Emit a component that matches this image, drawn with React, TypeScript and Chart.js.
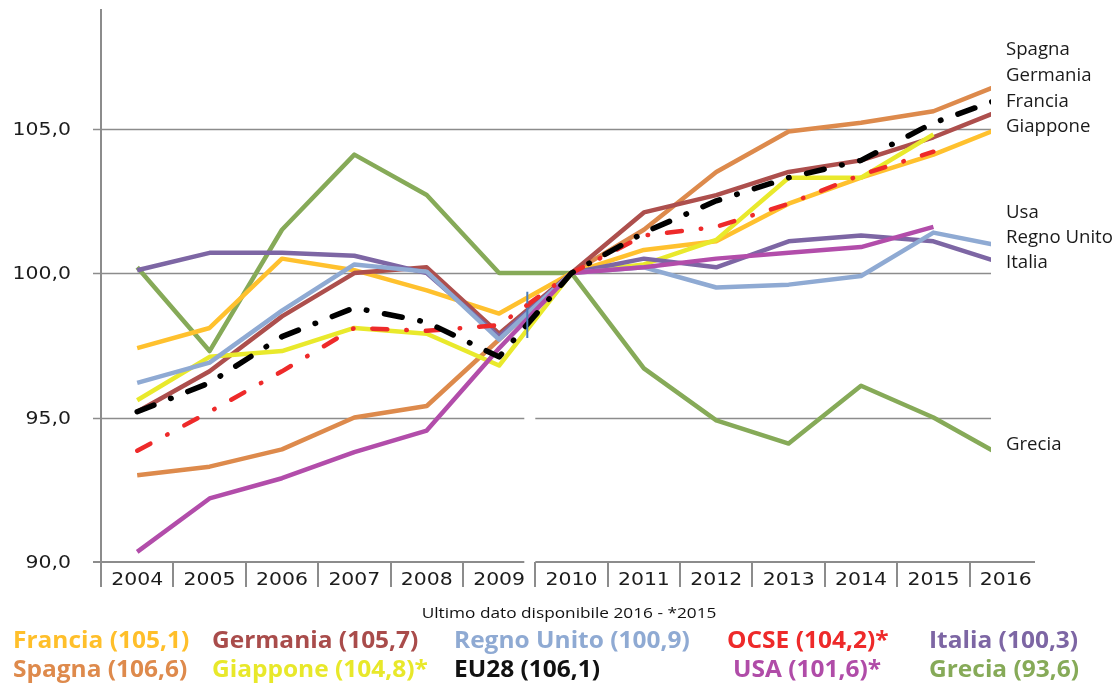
import React, { useEffect, useRef } from "react";
import { Chart, registerables } from "chart.js";

Chart.register(...registerables);

// ---------------- DATA ----------------
const years = ["2004", "2005", "2006", "2007", "2008", "2009", "2010", "2011", "2012", "2013", "2014", "2015", "2016"];

const francia = [97.4, 98.1, 100.5, 100.1, 99.4, 98.6, 100, 100.8, 101.1, 102.4, 103.3, 104.1, 105.1];
const spagna = [93.0, 93.3, 93.9, 95.0, 95.4, 97.7, 100, 101.5, 103.5, 104.9, 105.2, 105.6, 106.6];
const germania = [95.2, 96.6, 98.5, 100.0, 100.2, 97.9, 100, 102.1, 102.7, 103.5, 103.9, 104.7, 105.7];
const giappone = [95.6, 97.1, 97.3, 98.1, 97.9, 96.8, 100, 100.3, 101.15, 103.3, 103.3, 104.8, null];
const regnoUnito = [96.2, 96.9, 98.7, 100.3, 100.05, 97.7, 100, 100.2, 99.5, 99.6, 99.9, 101.4, 100.9];
const eu28 = [95.2, 96.2, 97.8, 98.8, 98.3, 97.1, 100, 101.4, 102.5, 103.3, 103.9, 105.2, 106.1];
const ocse = [93.85, 95.2, 96.6, 98.1, 98.0, 98.2, 100, 101.3, 101.6, 102.4, 103.4, 104.2, null];
const usa = [90.35, 92.2, 92.9, 93.8, 94.55, 97.4, 100, 100.2, 100.5, 100.7, 100.9, 101.6, null];
const italia = [100.1, 100.7, 100.7, 100.6, 100.0, 97.8, 100, 100.5, 100.2, 101.1, 101.3, 101.1, 100.3];
const grecia = [100.2, 97.3, 101.5, 104.1, 102.7, 100.0, 100, 96.7, 94.9, 94.1, 96.1, 95.0, 93.6];

const yTicks = [90, 95, 100, 105];
const yMin = 90;
const yMax = 109.14;

const subtitle = "Ultimo dato disponibile 2016 - *2015";

// right side labels
const sideLabels = ["Spagna", "Germania", "Francia", "Giappone", "Usa", "Regno Unito", "Italia", "Grecia"];
const sideBaselines = [55, 81, 106.7, 131.7, 218.3, 243.3, 268.3, 449.6];

// ---------------- STYLES ----------------
const C = {
  francia: "#FFC12E",
  spagna: "#DD8A4C",
  germania: "#AD4F4D",
  regno: "#8FAAD3",
  italia: "#7D66A4",
  giappone: "#E9E92C",
  eu28: "#000000",
  ocse: "#EE2A2A",
  usa: "#B24DAA",
  grecia: "#86AA58",
};

type Entry = { name: string; data: (number | null)[]; textColor: string; x: number; row: number };
const legendEntries: Entry[] = [
  { name: "Francia", data: francia, textColor: "#FFBF2A", x: 13, row: 0 },
  { name: "Germania", data: germania, textColor: "#A94C4B", x: 212, row: 0 },
  { name: "Regno Unito", data: regnoUnito, textColor: "#8FAAD3", x: 454, row: 0 },
  { name: "OCSE", data: ocse, textColor: "#EE2A2A", x: 727, row: 0 },
  { name: "Italia", data: italia, textColor: "#7D66A4", x: 929, row: 0 },
  { name: "Spagna", data: spagna, textColor: "#DE8A4C", x: 13, row: 1 },
  { name: "Giappone", data: giappone, textColor: "#E8E82A", x: 212, row: 1 },
  { name: "EU28", data: eu28, textColor: "#111111", x: 454, row: 1 },
  { name: "USA", data: usa, textColor: "#B04CA8", x: 733, row: 1 },
  { name: "Grecia", data: grecia, textColor: "#86AA58", x: 929, row: 1 },
];
const legendBaselines = [648.3, 677];

const GRAY = "#8c8c8c";
const TICK_FONT = '17px "DejaVu Sans"';
const TICK_SX = 1.2;

function fmt(v: number) {
  return v.toFixed(1).replace(".", ",");
}

function lastLabel(data: (number | null)[]) {
  let idx = data.length - 1;
  while (idx >= 0 && data[idx] == null) idx--;
  const v = data[idx] as number;
  return "(" + fmt(v) + ")" + (idx < data.length - 1 ? "*" : "");
}

function txt(ctx: CanvasRenderingContext2D, s: string, x: number, y: number, font: string, color: string, align: CanvasTextAlign = "left", sx = 1) {
  ctx.save();
  ctx.font = font;
  ctx.fillStyle = color;
  ctx.textBaseline = "alphabetic";
  ctx.textAlign = align;
  ctx.translate(x, y);
  ctx.scale(sx, 1);
  ctx.fillText(s, 0, 0);
  ctx.restore();
}

function hline(ctx: CanvasRenderingContext2D, x1: number, x2: number, y: number, gap?: [number, number]) {
  ctx.beginPath();
  if (gap) {
    ctx.moveTo(x1, y);
    ctx.lineTo(gap[0], y);
    ctx.moveTo(gap[1], y);
    ctx.lineTo(x2, y);
  } else {
    ctx.moveTo(x1, y);
    ctx.lineTo(x2, y);
  }
  ctx.stroke();
}

const framePlugin = {
  id: "frame",
  beforeDatasetsDraw(chart: any) {
    const ctx: CanvasRenderingContext2D = chart.ctx;
    const ca = chart.chartArea;
    const xs = chart.scales.x;
    const ys = chart.scales.y;
    const cropX = ca.right - 51;
    const bx = (xs.getPixelForValue(5) + xs.getPixelForValue(6)) / 2;
    const gap: [number, number] = [bx - 11, bx];
    ctx.save();
    ctx.strokeStyle = GRAY;
    ctx.lineWidth = 1.5;
    yTicks.forEach((v) => {
      if (v === yMin) return;
      const y = Math.round(ys.getPixelForValue(v)) + 0.5;
      hline(ctx, ca.left - 8, cropX, y, v < 105 ? gap : undefined);
    });
    ctx.lineWidth = 2;
    hline(ctx, ca.left - 8, ca.right - 7, ca.bottom, gap);
    ctx.beginPath();
    ctx.moveTo(ca.left, ca.top);
    ctx.lineTo(ca.left, ca.bottom + 25);
    ctx.stroke();
    for (let i = 1; i < years.length; i++) {
      const x = Math.round((xs.getPixelForValue(i - 1) + xs.getPixelForValue(i)) / 2);
      ctx.beginPath();
      ctx.moveTo(x, ca.bottom);
      ctx.lineTo(x, ca.bottom + 25);
      ctx.stroke();
    }
    ctx.restore();
    yTicks.forEach((v) => {
      txt(ctx, fmt(v), ca.left - 30, ys.getPixelForValue(v) + 6, TICK_FONT, "#1c1c1c", "right", TICK_SX);
    });
    years.forEach((y, i) => {
      txt(ctx, y, xs.getPixelForValue(i), ca.bottom + 23, TICK_FONT, "#1c1c1c", "center", TICK_SX);
    });
  },
  afterDatasetsDraw(chart: any) {
    const ctx: CanvasRenderingContext2D = chart.ctx;
    const ca = chart.chartArea;
    const xs = chart.scales.x;
    const ys = chart.scales.y;
    const cropX = ca.right - 51;
    const bx = (xs.getPixelForValue(5) + xs.getPixelForValue(6)) / 2;
    ctx.save();
    ctx.strokeStyle = "#4a7ebb";
    ctx.lineWidth = 2;
    const mx = bx - 8;
    ctx.beginPath();
    ctx.moveTo(mx, ys.getPixelForValue(99.35));
    ctx.lineTo(mx, ys.getPixelForValue(98.95));
    ctx.moveTo(mx, ys.getPixelForValue(98.8));
    ctx.lineTo(mx, ys.getPixelForValue(97.75));
    ctx.stroke();
    ctx.fillStyle = "#ffffff";
    ctx.fillRect(cropX, 0, chart.width - cropX, ys.getPixelForValue(92));
    ctx.restore();
    sideLabels.forEach((s, i) => {
      txt(ctx, s, 1006, sideBaselines[i], '18.6px "Open Sans"', "#1a1a1a", "left");
    });
    txt(ctx, subtitle, 569, 617.7, '15px "Open Sans"', "#111111", "center", 1.15);
    legendEntries.forEach((e) => {
      txt(ctx, e.name + " " + lastLabel(e.data), e.x, legendBaselines[e.row], 'bold 24px "Open Sans"', e.textColor, "left", 1.02);
    });
  },
};

function ds(label: string, data: (number | null)[], color: string, extra: any = {}) {
  return {
    label,
    data,
    borderColor: color,
    backgroundColor: color,
    borderWidth: 4.5,
    pointRadius: 0,
    pointHoverRadius: 0,
    tension: 0,
    borderJoinStyle: "round",
    borderCapStyle: "butt",
    spanGaps: false,
    ...extra,
  };
}

export default function App() {
  const ref = useRef<HTMLCanvasElement | null>(null);
  useEffect(() => {
    if (!ref.current) return;
    const chart = new Chart(ref.current, {
      type: "line",
      data: {
        labels: years,
        datasets: [
          ds("EU28", eu28, C.eu28, { borderWidth: 5.5, borderDash: [18, 18, 0.5, 18], borderCapStyle: "round" }),
          ds("OCSE", ocse, C.ocse, { borderWidth: 4.5, borderDash: [15, 19, 0.5, 19], borderCapStyle: "round" }),
          ds("USA", usa, C.usa),
          ds("Regno Unito", regnoUnito, C.regno),
          ds("Italia", italia, C.italia),
          ds("Giappone", giappone, C.giappone),
          ds("Germania", germania, C.germania),
          ds("Francia", francia, C.francia),
          ds("Spagna", spagna, C.spagna),
          ds("Grecia", grecia, C.grecia),
        ] as any,
      },
      options: {
        animation: false,
        responsive: false,
        maintainAspectRatio: false,
        events: [],
        layout: { padding: { top: 9, right: 74, left: 0, bottom: 0 } },
        plugins: { legend: { display: false }, tooltip: { enabled: false } },
        scales: {
          x: {
            type: "category",
            offset: true,
            grid: { display: false, drawTicks: false },
            border: { display: false },
            ticks: { display: false },
            afterFit: (s: any) => {
              s.height = 124;
            },
          },
          y: {
            type: "linear",
            min: yMin,
            max: yMax,
            grid: { display: false, drawTicks: false },
            border: { display: false },
            ticks: { display: false },
            afterBuildTicks: (s: any) => {
              s.ticks = yTicks.map((v) => ({ value: v }));
            },
            afterFit: (s: any) => {
              s.width = 101;
            },
          },
        },
      },
      plugins: [framePlugin],
    });
    return () => chart.destroy();
  }, []);
  return (
    <div style={{ position: "absolute", left: 0, top: 0, width: 1116, height: 686, background: "#fff" }}>
      <canvas ref={ref} width={1116} height={686} style={{ display: "block" }} />
    </div>
  );
}
